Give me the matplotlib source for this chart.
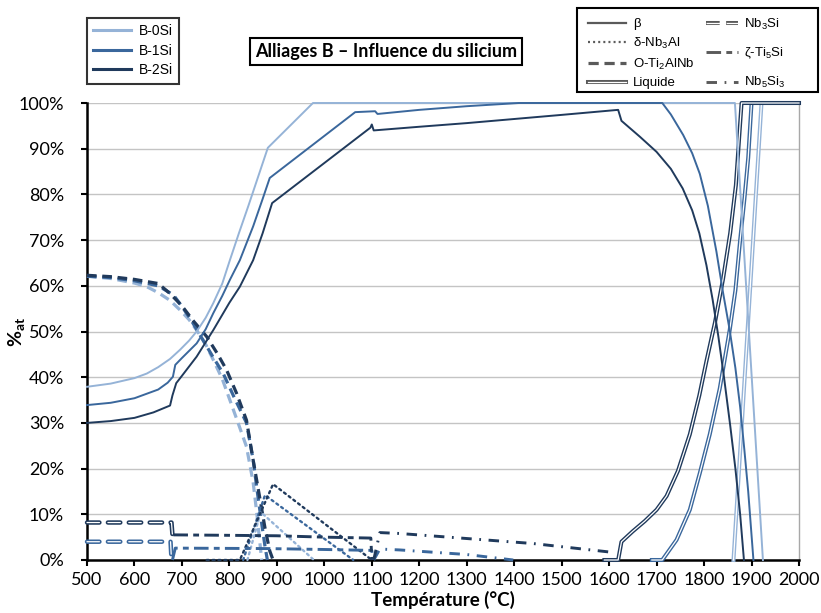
import matplotlib
matplotlib.use('Agg')
import matplotlib.pyplot as plt
import matplotlib.patheffects as pe
from matplotlib.lines import Line2D
from matplotlib.patches import Rectangle
from matplotlib.ticker import PercentFormatter

# ---------------- data (temperature °C, fraction %at) ----------------
alloys = ['B-0Si', 'B-1Si', 'B-2Si']
alloy_colors = ['#95B3D7', '#3A679C', '#203A5C']

# beta
beta_0_T = [500, 550, 600, 626, 650, 675, 696, 715, 731, 750, 766, 785, 801, 820, 840, 860, 881,
            976, 1865, 1924]
beta_0_v = [37.9, 38.6, 39.8, 40.8, 42.2, 44.0, 46.0, 48.0, 50.0, 53.0, 56.2, 60.5, 65.6, 71.5, 77.5, 83.7, 90.2,
            100, 100, 0]
beta_1_T = [500, 550, 600, 650, 670, 681, 686, 700, 731, 750, 766, 785, 801, 822, 850, 870, 885,
            1065, 1107, 1112, 1200, 1300, 1410, 1712, 1730, 1756, 1775, 1791, 1808, 1826, 1840, 1854,
            1866, 1876, 1885, 1893, 1904]
beta_1_v = [33.9, 34.4, 35.4, 37.3, 38.8, 40.1, 42.7, 44.2, 47.4, 50.5, 54.0, 57.8, 61.3, 65.6, 73.0, 79.0, 83.6,
            98.0, 98.2, 97.6, 98.5, 99.3, 100, 100, 97.5, 93.0, 89.0, 84.5, 77.5, 67.5, 58.5, 50.3,
            42.0, 33.5, 24.0, 15.0, 0]
beta_2_T = [500, 550, 600, 640, 675, 680, 688, 700, 731, 766, 800, 822, 850, 870, 890, 1097, 1100, 1104,
            1200, 1300, 1400, 1500, 1619, 1626, 1665, 1700, 1730, 1755, 1775, 1790, 1805, 1818, 1830,
            1842, 1855, 1866, 1876, 1884]
beta_2_v = [30.0, 30.4, 31.1, 32.3, 33.8, 36.0, 38.7, 40.3, 44.5, 50.3, 56.3, 59.8, 65.6, 71.5, 78.1, 94.6, 95.3, 94.0,
            94.8, 95.6, 96.5, 97.4, 98.5, 96.1, 92.6, 89.3, 85.6, 81.3, 76.5, 71.5, 64.5, 57.0, 49.0,
            40.0, 29.5, 20.0, 10.0, 0]

# liquid
liq_0_T = [1862, 1921, 2000]
liq_0_v = [0, 100, 100]
liq_1_T = [1690, 1712, 1742, 1770, 1791, 1812, 1833, 1854, 1866, 1876, 1885, 1893, 1900, 2000]
liq_1_v = [0, 0, 4.4, 11.0, 19.0, 27.5, 37.5, 50.3, 59.0, 70.0, 79.0, 88.0, 100, 100]
liq_2_T = [1590, 1619, 1626, 1650, 1675, 1700, 1721, 1745, 1770, 1790, 1805, 1823, 1840, 1855, 1867, 1879, 2000]
liq_2_v = [0, 0, 4.0, 6.3, 8.5, 11.0, 14.0, 19.5, 27.5, 36.0, 43.5, 52.0, 61.5, 71.5, 82.0, 100, 100]

# O-Ti2AlNb
o_0_T = [500, 550, 600, 626, 650, 675, 696, 715, 731, 750, 766, 785, 801, 820, 836, 850, 858, 864, 868]
o_0_v = [62.1, 61.6, 60.6, 59.8, 58.5, 56.8, 54.7, 52.6, 50.3, 47.2, 43.8, 39.6, 35.0, 29.5, 24.8, 17.0, 10.0, 4.0, 0]
o_1_T = [500, 550, 600, 650, 682, 700, 720, 745, 765, 787, 810, 836, 850, 860, 868, 875, 880]
o_1_v = [62.1, 61.8, 61.1, 60.0, 58.0, 55.5, 52.4, 48.0, 44.5, 40.8, 35.6, 30.0, 21.9, 14.0, 8.0, 3.0, 0]
o_2_T = [500, 550, 600, 650, 675, 700, 725, 752, 775, 794, 815, 836, 850, 865, 875, 885, 892]
o_2_v = [62.3, 62.0, 61.4, 60.5, 58.3, 55.6, 52.2, 48.9, 45.1, 41.6, 36.5, 30.6, 21.9, 13.0, 7.0, 2.0, 0]

# delta-Nb3Al
d_0_T = [838, 866, 978]
d_0_v = [0, 10.5, 0]
d_1_T = [829, 875, 1061]
d_1_v = [0, 14.2, 0]
d_2_T = [752, 822, 892, 1100]
d_2_v = [0, 0, 16.6, 0]

# Nb3Si
n_1_T = [500, 676, 678]
n_1_v = [4.0, 4.0, 0]
n_2_T = [500, 678, 680]
n_2_v = [8.2, 8.2, 5.5]

# zeta-Ti5Si3
z_1_T = [680, 686, 880, 1000, 1100, 1102]
z_1_v = [0, 2.6, 2.5, 2.3, 2.1, 0]
z_2_T = [682, 800, 900, 1000, 1098, 1100]
z_2_v = [5.5, 5.4, 5.3, 5.0, 4.8, 0]

# Nb5Si3
s_1_T = [1104, 1117, 1159, 1300, 1398]
s_1_v = [0, 2.4, 2.2, 1.2, 0]
s_2_T = [1104, 1117, 1159, 1300, 1440, 1605]
s_2_v = [0, 6.0, 5.8, 4.7, 3.6, 1.7]

x_ticks = list(range(500, 2001, 100))
y_ticks = list(range(0, 101, 10))

phase_labels = ['β', 'δ-Nb$_3$Al', 'O-Ti$_2$AlNb', 'Liquide', 'Nb$_3$Si', 'ζ-Ti$_5$Si', 'Nb$_5$Si$_3$']
title = 'Alliages B – Influence du silicium'

# ---------------- styling ----------------
plt.rcParams['font.family'] = ['Lato', 'DejaVu Sans']
plt.rcParams['mathtext.fontset'] = 'custom'
plt.rcParams['mathtext.rm'] = 'Liberation Sans'
plt.rcParams['mathtext.bf'] = 'Lato:bold'

def double(c, w=2.9, inner=0.9):
    return [pe.Stroke(linewidth=w, foreground=c), pe.Stroke(linewidth=inner, foreground='white')]

styles = {
    'beta': dict(lw=1.4, ls='-'),
    'delta': dict(lw=1.7, ls=(0, (0.9, 1.6)), dash_capstyle='round'),
    'O': dict(lw=2.3, ls=(0, (3.0, 1.8))),
    'liq': dict(lw=2.9, ls='-'),
    'nb3si': dict(lw=3.2, ls=(0, (2.8, 1.9)), dash_capstyle='round'),
    'zeta': dict(lw=2.1, ls=(0, (5.0, 1.8, 2.0, 1.8))),
    'nb5si3': dict(lw=2.1, ls=(0, (3.6, 2.6, 0.6, 2.6))),
}

fig = plt.figure(figsize=(8.21, 6.13), dpi=100)
ax = fig.add_axes([87/821, 1-560/613, (799-87)/821, (560-103)/613])

series = [
    ('O', [(o_0_T, o_0_v), (o_1_T, o_1_v), (o_2_T, o_2_v)]),
    ('delta', [(d_0_T, d_0_v), (d_1_T, d_1_v), (d_2_T, d_2_v)]),
    ('nb3si', [None, (n_1_T, n_1_v), (n_2_T, n_2_v)]),
    ('zeta', [None, (z_1_T, z_1_v), (z_2_T, z_2_v)]),
    ('nb5si3', [None, (s_1_T, s_1_v), (s_2_T, s_2_v)]),
    ('liq', [(liq_0_T, liq_0_v), (liq_1_T, liq_1_v), (liq_2_T, liq_2_v)]),
    ('beta', [(beta_0_T, beta_0_v), (beta_1_T, beta_1_v), (beta_2_T, beta_2_v)]),
]
for key, data in series:
    for c, d in zip(alloy_colors, data):
        if d is None:
            continue
        st = dict(styles[key])
        kw = {}
        if key in ('liq', 'nb3si'):
            kw['path_effects'] = double(c, w=st['lw'])
        ax.plot(d[0], d[1], color=c, clip_on=False, zorder=3, solid_joinstyle='round', **st, **kw)

ax.set_xlim(500, 2000)
ax.set_ylim(0, 100)
ax.set_xticks(x_ticks)
ax.set_yticks(y_ticks)
ax.yaxis.set_major_formatter(PercentFormatter(decimals=0))
ax.yaxis.grid(True, color='#C4C4C4', lw=1.0, zorder=0)
ax.set_axisbelow(True)
for s in ('left', 'bottom'):
    ax.spines[s].set_linewidth(1.8)
    ax.spines[s].set_color('black')
ax.spines['top'].set_visible(False)
ax.spines['right'].set_color('#A8A8A8')
ax.spines['right'].set_linewidth(1.0)
ax.tick_params(axis='both', direction='out', length=4.5, width=1.5, colors='black', labelsize=13)
ax.tick_params(axis='y', pad=12)
ax.tick_params(axis='x', pad=4)
ax.set_xlabel('Température (°C)', fontsize=13.5, fontweight='bold', labelpad=2)
ax.set_ylabel(r'$\mathbf{\%}_{\mathbf{at}}$', fontsize=14, labelpad=-7)

fig.text(386/821, 1-51.5/613, title, ha='center', va='center', fontsize=13, fontweight='bold',
         bbox=dict(boxstyle='square,pad=0.3', facecolor='white', edgecolor='black', lw=1.5))

# left legend (alloys)
alloy_handles = [Line2D([], [], color=c, lw=2.2) for c in alloy_colors]
leg1 = fig.legend(alloy_handles, alloys, loc='upper left', bbox_to_anchor=(87/821, 1-18/613),
                  frameon=True, fancybox=False, edgecolor='black',
                  prop={'family': 'Liberation Sans', 'size': 10}, handlelength=2.7,
                  handletextpad=0.58, labelspacing=0.4, borderpad=0.45, borderaxespad=0)
leg1.get_frame().set_linewidth(1.5)

# right legend (phases)
g = '#5A5A5A'
ph = [
    Line2D([], [], color=g, lw=1.6),
    Line2D([], [], color=g, lw=1.6, ls=(0, (0.9, 1.4))),
    Line2D([], [], color=g, lw=2.3, ls=(0, (3.2, 1.8))),
    Line2D([], [], color=g, lw=2.9, path_effects=double(g)),
    Line2D([], [], color=g, lw=2.9, ls=(0, (3.4, 1.6)), path_effects=double(g)),
    Line2D([], [], color=g, lw=2.1, ls=(0, (5.0, 1.8, 2.0, 1.8))),
    Line2D([], [], color=g, lw=2.1, ls=(0, (3.6, 2.6, 0.6, 2.6))),
]
lp = {'family': ['Liberation Sans', 'DejaVu Sans'], 'size': 9.5}
legA = fig.legend(ph[:4], phase_labels[:4], loc='upper left', bbox_to_anchor=(588/821, 1-18/613),
                  frameon=False, prop=lp, handlelength=2.9, handletextpad=0.5,
                  labelspacing=0.42, borderpad=0, borderaxespad=0)
legB = fig.legend(ph[4:], phase_labels[4:], loc='upper left', bbox_to_anchor=(706/821, 1-17/613),
                  frameon=False, prop=lp, handlelength=2.4, handletextpad=0.5,
                  labelspacing=1.05, borderpad=0, borderaxespad=0)
fig.patches.append(Rectangle((577/821, 1-92/613), (818-577)/821, (92-8)/613, transform=fig.transFigure,
                             fill=False, edgecolor='black', lw=1.5))

fig.savefig('out.png', dpi=100)
